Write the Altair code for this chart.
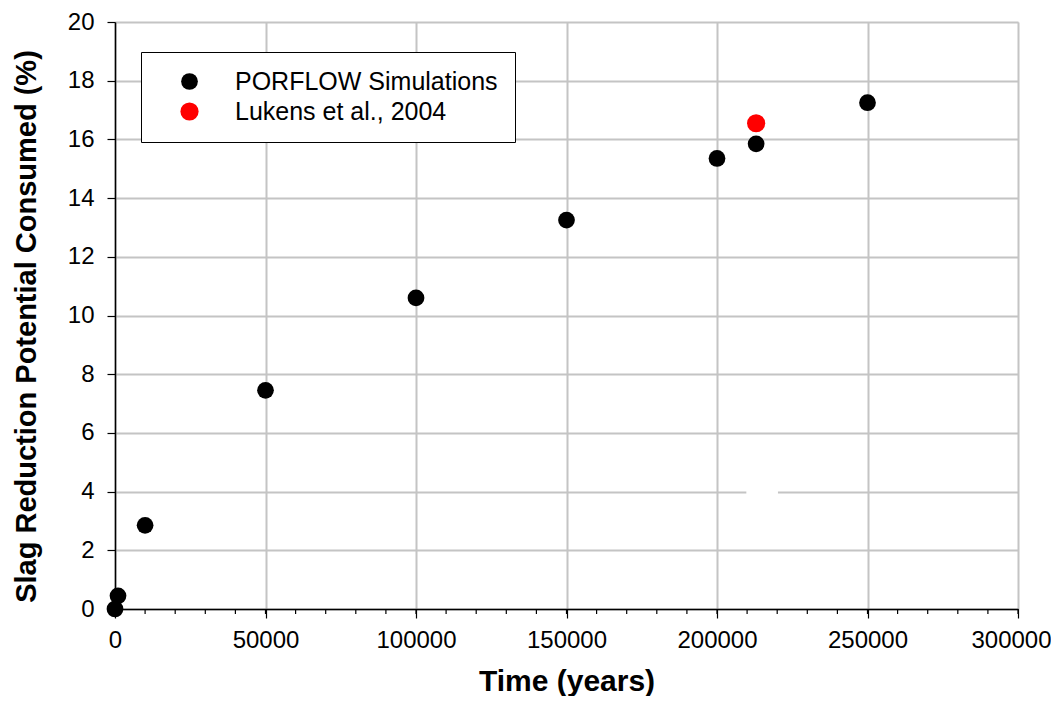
import altair as alt
import pandas as pd

# PORFLOW simulation points
sim_time = [0, 1000, 10000, 50000, 100000, 150000, 200000, 213000, 250000]
sim_value = [0.0, 0.45, 2.85, 7.45, 10.6, 13.25, 15.35, 15.85, 17.25]
# Lukens et al., 2004
luk_time = [213000]
luk_value = [16.55]
# hidden (white) point in the original
white_time = [215000]
white_value = [4.0]
# minor ticks on x
minor_ticks = list(range(0, 300001, 10000))

series = ["PORFLOW Simulations"] * len(sim_time) + ["Lukens et al., 2004"] * len(luk_time)
df = pd.DataFrame({
    "t": sim_time + luk_time,
    "v": sim_value + luk_value,
    "s": series,
})
dfw = pd.DataFrame({"t": white_time, "v": white_value})
dfm = pd.DataFrame({"t": minor_ticks})

FONT = "Liberation Sans"
xscale = alt.Scale(domain=[0, 300000], nice=False)
yscale = alt.Scale(domain=[0, 20], nice=False)

x_axis = alt.Axis(
    values=[0, 50000, 100000, 150000, 200000, 250000, 300000],
    format="d", title="Time (years)", titleFont=FONT, titleFontSize=30,
    titleFontWeight="bold", titlePadding=14, titleColor="black",
    labelFont=FONT, labelFontSize=24, labelColor="black", labelPadding=10,
    labelFlush=False,
    labelOffset={"condition": {"test": "datum.value == 300000", "value": -7}, "value": 0},
    tickSize=9, tickColor="black", tickWidth=1.2,
    domainColor="black", domainWidth=1.5,
    grid=True, gridColor="#c4c4c4", gridWidth=2,
)
y_axis = alt.Axis(
    values=list(range(0, 21, 2)),
    title="Slag Reduction Potential Consumed (%)", titleFont=FONT,
    titleFontSize=29, titleFontWeight="bold", titlePadding=26, titleColor="black",
    titleY=304,
    labelFont=FONT, labelFontSize=24, labelColor="black", labelPadding=13,
    tickSize=8, tickColor="black", tickWidth=1.2,
    domainColor="black", domainWidth=1.5,
    grid=True, gridColor="#c4c4c4", gridWidth=2,
)

def X():
    return alt.X("t:Q", scale=xscale, axis=x_axis)

def Y():
    return alt.Y("v:Q", scale=yscale, axis=y_axis)

points = alt.Chart(df).mark_circle(opacity=1).encode(
    x=X(),
    y=Y(),
    color=alt.Color("s:N", scale=alt.Scale(
        domain=["PORFLOW Simulations", "Lukens et al., 2004"],
        range=["black", "#ff0000"]),
        legend=alt.Legend(
            title=None, orient="none", legendX=26, legendY=30,
            labelFont=FONT, labelFontSize=25, labelColor="black", labelLimit=0,
            symbolType="circle", symbolSize=300, symbolStrokeWidth=0,
            strokeColor="black", fillColor="white", padding=17,
            labelOffset=33, rowPadding=4, symbolOffset=19,
        )),
    size=alt.Size("s:N", scale=alt.Scale(
        domain=["PORFLOW Simulations", "Lukens et al., 2004"],
        range=[280, 330]), legend=None),
)

white = alt.Chart(dfw).mark_square(color="white", opacity=1, size=1000).encode(
    x=X(),
    y=Y(),
)

minor = alt.Chart(dfm).mark_rule(color="black", strokeWidth=1.2).encode(
    x=X(),
    y=alt.value(587),
    y2=alt.value(592),
)

chart = alt.layer(white, minor, points).properties(
    width=903, height=587,
    autosize=alt.AutoSizeParams(type="none"),
    padding={"left": 107, "top": 14, "right": 33, "bottom": 87},
).configure_view(stroke="#444444", strokeWidth=1.5).configure(background="white")

chart.save("out.html", embed_options={"renderer": "svg", "actions": False})
